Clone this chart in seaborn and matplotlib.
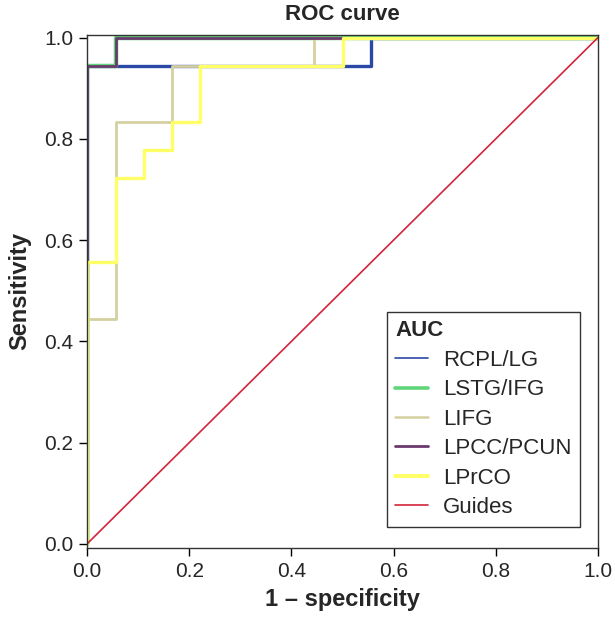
import numpy as np
import pandas as pd
import seaborn as sns
import matplotlib.pyplot as plt

# ROC step points (1 - specificity, sensitivity)
rcpl_fpr = [0, 0, 0.556, 0.556, 1]
rcpl_tpr = [0, 0.944, 0.944, 1, 1]
lstg_fpr = [0, 0, 0.056, 0.056, 1]
lstg_tpr = [0, 0.944, 0.944, 1, 1]
lifg_fpr = [0, 0, 0.056, 0.056, 0.167, 0.167, 0.444, 0.444, 1]
lifg_tpr = [0, 0.444, 0.444, 0.833, 0.833, 0.944, 0.944, 1, 1]
lpcc_fpr = [0, 0, 0.056, 0.056, 1]
lpcc_tpr = [0, 0.944, 0.944, 1, 1]
lprco_fpr = [0, 0, 0.056, 0.056, 0.111, 0.111, 0.167, 0.167, 0.222, 0.222, 0.5, 0.5, 1]
lprco_tpr = [0, 0.556, 0.556, 0.722, 0.722, 0.778, 0.778, 0.833, 0.833, 0.944, 0.944, 1, 1]
guide_x = [0, 1]
guide_y = [0, 1]

names = ["RCPL/LG", "LSTG/IFG", "LIFG", "LPCC/PCUN", "LPrCO", "Guides"]
xs = [rcpl_fpr, lstg_fpr, lifg_fpr, lpcc_fpr, lprco_fpr, guide_x]
ys = [rcpl_tpr, lstg_tpr, lifg_tpr, lpcc_tpr, lprco_tpr, guide_y]
colors = ["#2c48a6", "#5fd67a", "#d4d0a0", "#6a3a6e", "#ffff66", "#d2243b"]
widths = [2.4, 3.2, 2.0, 2.0, 2.4, 1.2]
leg_widths = [1.2, 2.6, 1.8, 2.0, 2.8, 1.2]

sns.set_style("white")
plt.rcParams["font.family"] = ["Liberation Sans", "DejaVu Sans"]

fig = plt.figure(figsize=(6.15, 6.21), dpi=100)
ax = fig.add_axes([87/615, 1 - 548/621, (598-87)/615, (548-35)/621])

for n, x, y, c, w in zip(names, xs, ys, colors, widths):
    df = pd.DataFrame({"x": x, "y": y})
    sns.lineplot(data=df, x="x", y="y", ax=ax, color=c, linewidth=w,
                 sort=False, estimator=None, label=n)

ticks = np.arange(0, 1.01, 0.2)
ax.set_xlim(0, 1)
ax.set_ylim(-0.008, 1.005)
ax.set_xticks(ticks)
ax.set_yticks(ticks)
ax.set_xticklabels([f"{v:.1f}" for v in ticks])
ax.set_yticklabels([f"{v:.1f}" for v in ticks])
ax.tick_params(axis="both", labelsize=15, length=6, width=1, color="black",
               direction="out", bottom=True, left=True, pad=4)
for s in ax.spines.values():
    s.set_color("#333333")
    s.set_linewidth(1)

ax.set_xlabel("1 \u2013 specificity", fontsize=17, fontweight="bold", labelpad=5)
ax.set_ylabel("Sensitivity", fontsize=17, fontweight="bold", labelpad=9)
ax.set_title("ROC curve", fontsize=16, fontweight="bold", pad=11)

leg = ax.legend(title="AUC", loc="lower right", bbox_to_anchor=(0.965, 0.041),
                fontsize=16, title_fontproperties={"weight": "bold", "size": 16},
                frameon=True, fancybox=False, edgecolor="black",
                handlelength=1.45, handletextpad=0.68, labelspacing=0.38,
                borderpad=0.4, borderaxespad=0)
leg._legend_box.align = "left"
leg.get_frame().set_linewidth(1)
for h, w in zip(leg.get_lines(), leg_widths):
    h.set_linewidth(w)

fig.savefig("out.png", dpi=100)
